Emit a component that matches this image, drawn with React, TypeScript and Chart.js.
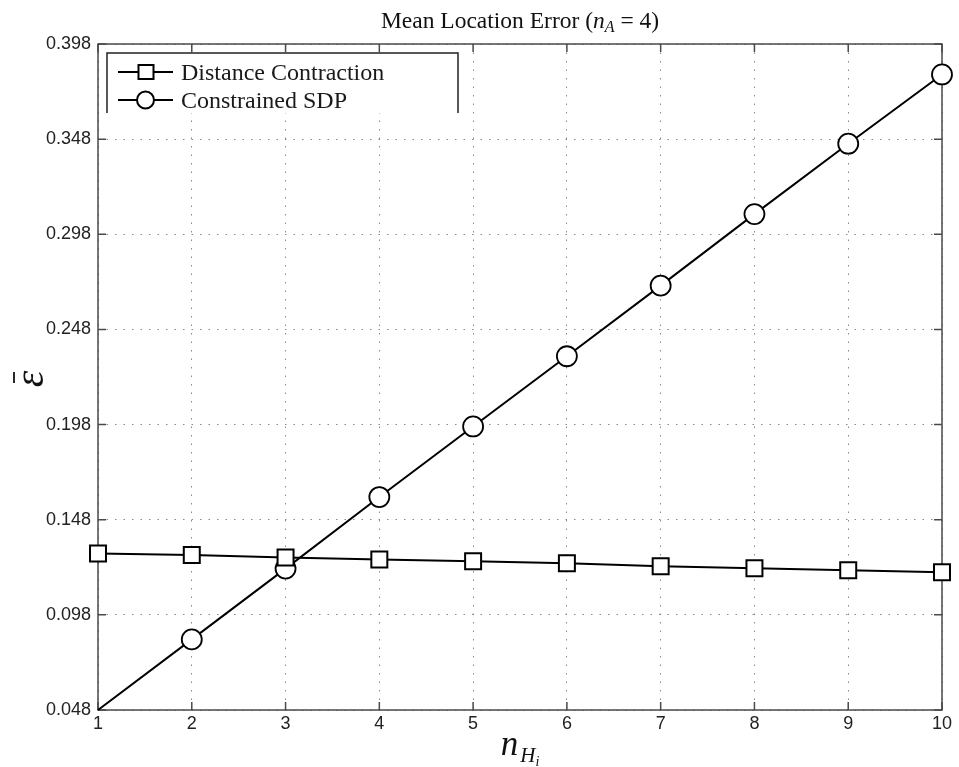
import React, { useEffect, useRef } from "react";
import { Chart, registerables } from "chart.js";

Chart.register(...registerables);

const xValues = [1, 2, 3, 4, 5, 6, 7, 8, 9, 10];
const distanceContraction = [0.1302, 0.1295, 0.1281, 0.1271, 0.1262, 0.1251, 0.1236, 0.1225, 0.1215, 0.1204];
const constrainedSDP = [0.048, 0.0851, 0.1223, 0.1599, 0.197, 0.2339, 0.271, 0.3086, 0.3456, 0.382];
const yTicks = [0.048, 0.098, 0.148, 0.198, 0.248, 0.298, 0.348, 0.398];
const xTicks = [1, 2, 3, 4, 5, 6, 7, 8, 9, 10];
const seriesNames = ["Distance Contraction", "Constrained SDP"];
const titleParts = ["Mean Location Error (", "n", "A", " = 4)"];
const xLabelParts = ["n", "H", "i"];
const yLabel = "ε";

const SERIF = '"Liberation Serif", "DejaVu Serif", serif';
const SANS = '"Liberation Sans", Arial, sans-serif';

const decorPlugin = {
  id: "decor",
  beforeDatasetsDraw(chart: any) {
    const { ctx, chartArea: a, scales } = chart;
    ctx.save();
    ctx.strokeStyle = "#4a4a4a";
    ctx.lineWidth = 1.5;
    ctx.strokeRect(a.left, a.top, a.right - a.left, a.bottom - a.top);
    const tl = 8;
    ctx.beginPath();
    xTicks.forEach((v) => {
      const x = scales.x.getPixelForValue(v);
      ctx.moveTo(x, a.bottom);
      ctx.lineTo(x, a.bottom - tl);
      ctx.moveTo(x, a.top);
      ctx.lineTo(x, a.top + tl);
    });
    yTicks.forEach((v) => {
      const y = scales.y.getPixelForValue(v);
      ctx.moveTo(a.left, y);
      ctx.lineTo(a.left + tl, y);
      ctx.moveTo(a.right, y);
      ctx.lineTo(a.right - tl, y);
    });
    ctx.stroke();
    ctx.restore();
  },
  afterDraw(chart: any) {
    const { ctx, chartArea: a } = chart;
    const cx = (a.left + a.right) / 2;
    ctx.save();
    ctx.fillStyle = "#111";
    ctx.textBaseline = "alphabetic";
    ctx.textAlign = "left";

    // Title
    const fN = `23.5px ${SERIF}`;
    const fI = `italic 23.5px ${SERIF}`;
    const fS = `italic 16px ${SERIF}`;
    const fonts = [fN, fI, fS, fN];
    const offs = [0, 0, 4, 0];
    let widths = titleParts.map((t, i) => {
      ctx.font = fonts[i];
      return ctx.measureText(t).width;
    });
    let total = widths.reduce((s, w) => s + w, 0);
    let x = cx - total / 2;
    titleParts.forEach((t, i) => {
      ctx.font = fonts[i];
      ctx.fillText(t, x, 28 + offs[i]);
      x += widths[i];
    });

    // X label
    const xf = [`italic 35px ${SERIF}`, `italic 21px ${SERIF}`, `italic 14px ${SERIF}`];
    const xb = [755, 762, 766];
    widths = xLabelParts.map((t, i) => {
      ctx.font = xf[i];
      return ctx.measureText(t).width;
    });
    total = widths.reduce((s, w) => s + w, 0) + 2;
    x = cx - total / 2;
    xLabelParts.forEach((t, i) => {
      ctx.font = xf[i];
      ctx.fillText(t, x, xb[i]);
      x += widths[i] + (i === 0 ? 2 : 0);
    });

    // Y label (epsilon with bar, rotated)
    ctx.save();
    ctx.translate(32, (a.top + a.bottom) / 2 + 2);
    ctx.rotate(-Math.PI / 2);
    ctx.textAlign = "center";
    ctx.textBaseline = "middle";
    ctx.font = `italic 42px ${SERIF}`;
    ctx.fillText(yLabel, 0, 0);
    ctx.strokeStyle = "#111";
    ctx.lineWidth = 1.8;
    ctx.beginPath();
    ctx.moveTo(-4, -18);
    ctx.lineTo(7, -18);
    ctx.stroke();
    ctx.restore();

    // Legend
    const L = 107, T = 53, R = 458, B = 113;
    ctx.fillStyle = "#fff";
    ctx.fillRect(L, T, R - L, B - T);
    ctx.strokeStyle = "#222";
    ctx.lineWidth = 1.5;
    ctx.beginPath();
    ctx.moveTo(L, B);
    ctx.lineTo(L, T);
    ctx.lineTo(R, T);
    ctx.lineTo(R, B);
    ctx.stroke();
    const rows = [72, 100];
    const styles = ["rect", "circle"];
    rows.forEach((ry, i) => {
      ctx.strokeStyle = "#000";
      ctx.lineWidth = 2;
      ctx.beginPath();
      ctx.moveTo(118, ry);
      ctx.lineTo(173, ry);
      ctx.stroke();
      ctx.fillStyle = "#fff";
      ctx.beginPath();
      if (styles[i] === "rect") {
        ctx.rect(146 - 7.5, ry - 7, 15, 14);
      } else {
        ctx.arc(145.5, ry, 8.5, 0, Math.PI * 2);
      }
      ctx.fill();
      ctx.stroke();
      ctx.fillStyle = "#1a1a1a";
      ctx.font = `24px ${SERIF}`;
      ctx.textAlign = "left";
      ctx.textBaseline = "alphabetic";
      ctx.fillText(seriesNames[i], 181, ry + 8);
    });
    ctx.restore();
  },
};

export default function App() {
  const ref = useRef<HTMLCanvasElement | null>(null);
  useEffect(() => {
    if (!ref.current) return;
    const yMin = yTicks[0];
    const yMax = yTicks[yTicks.length - 1];
    const chart = new Chart(ref.current, {
      type: "line",
      data: {
        datasets: [
          {
            label: seriesNames[0],
            data: xValues.map((x, i) => ({ x, y: distanceContraction[i] })),
            borderColor: "#000",
            borderWidth: 2,
            pointStyle: "rect",
            pointRadius: 11.3,
            pointBorderWidth: 2,
            pointBackgroundColor: "#fff",
            pointBorderColor: "#000",
            clip: false as any,
            order: 1,
          },
          {
            label: seriesNames[1],
            data: xValues.map((x, i) => ({ x, y: constrainedSDP[i] })),
            borderColor: "#000",
            borderWidth: 2,
            pointStyle: "circle",
            pointRadius: (c: any) => (c.raw && c.raw.y <= yMin ? 0 : 10),
            pointBorderWidth: 1.8,
            pointBackgroundColor: "#fff",
            pointBorderColor: "#000",
            clip: false as any,
            order: 2,
          },
        ],
      },
      options: {
        responsive: false,
        animation: false,
        events: [],
        layout: { padding: { left: 0, right: 17, top: 44, bottom: 0 } },
        plugins: {
          legend: { display: false },
          title: { display: false },
          tooltip: { enabled: false },
        },
        scales: {
          x: {
            type: "linear",
            min: 1,
            max: 10,
            ticks: {
              stepSize: 1,
              padding: 3,
              color: "#222",
              font: { family: SANS, size: 18 },
            },
            grid: { color: "#8a8a8a", lineWidth: 1, drawTicks: false },
            border: { display: false, dash: [1.5, 7] },
            afterFit: (s: any) => {
              s.height = 57;
            },
          },
          y: {
            type: "linear",
            min: yMin,
            max: yMax,
            afterBuildTicks: (s: any) => {
              s.ticks = yTicks.map((v) => ({ value: v }));
            },
            ticks: {
              padding: 7,
              color: "#222",
              font: { family: SANS, size: 18 },
              callback: (v: any) => Number(v).toFixed(3),
            },
            grid: { color: "#8a8a8a", lineWidth: 1, drawTicks: false },
            border: { display: false, dash: [1.5, 7] },
            afterFit: (s: any) => {
              s.width = 98;
            },
          },
        },
      },
      plugins: [decorPlugin],
    });
    return () => chart.destroy();
  }, []);
  return (
    <div style={{ position: "absolute", left: 0, top: 0, width: 959, height: 767, background: "#fff" }}>
      <canvas ref={ref} width={959} height={767} />
    </div>
  );
}
